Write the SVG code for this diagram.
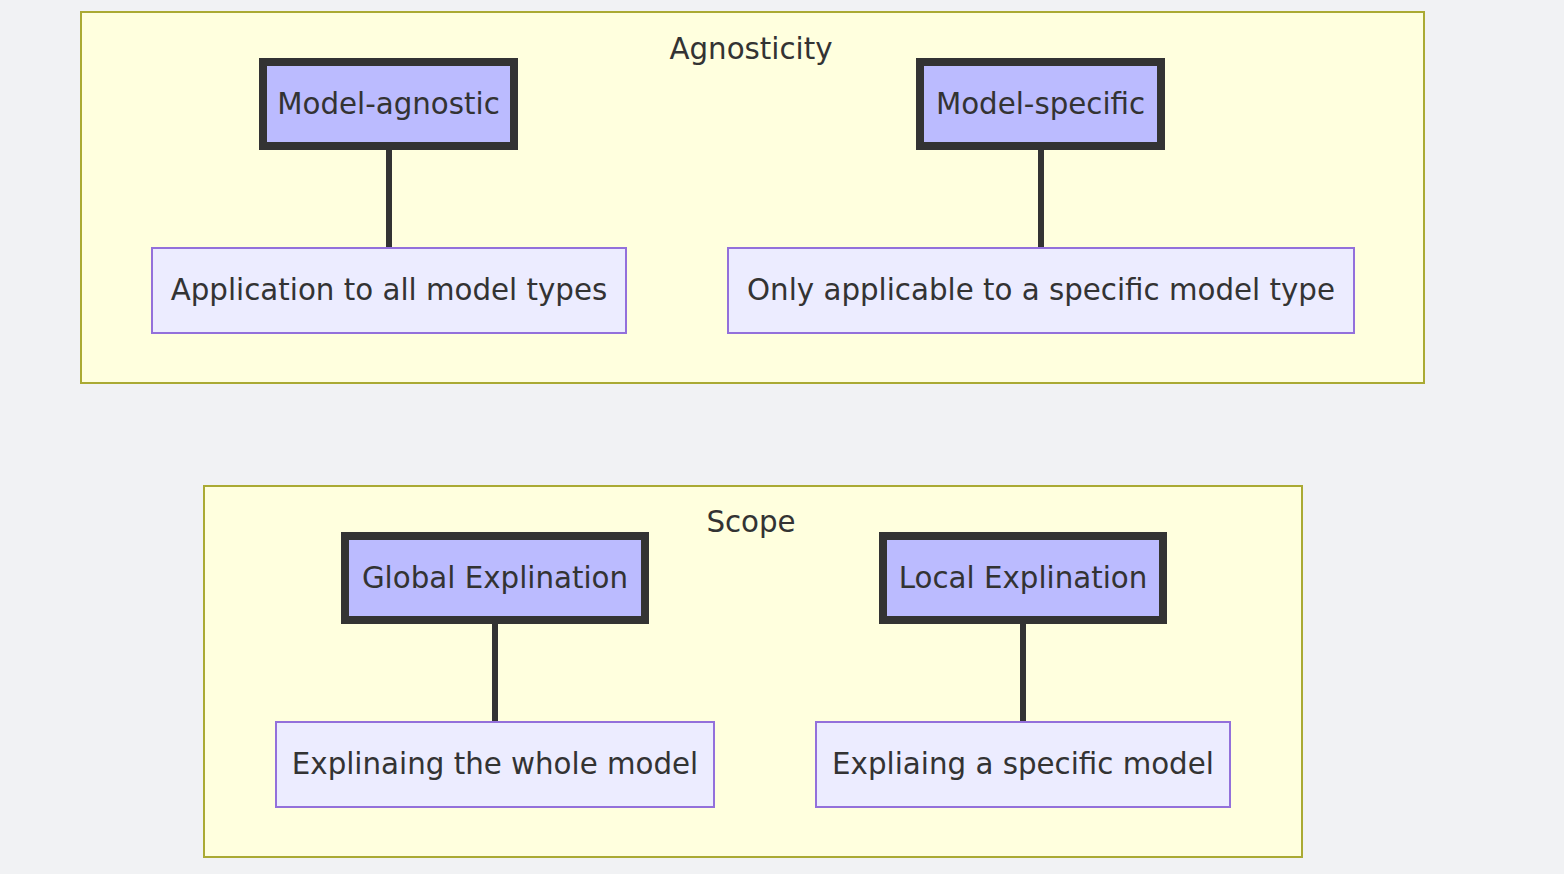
<svg xmlns="http://www.w3.org/2000/svg" width="1564" height="874" viewBox="0 0 1564 874">
<style>
.bg{fill:#f1f2f4}
.cluster{fill:#ffffde;stroke:#aaaa33;stroke-width:2}
.main{fill:#bbbbff;stroke:#333333;stroke-width:8}
.desc{fill:#ececff;stroke:#9370db;stroke-width:2}
.edge{stroke:#333333;stroke-width:6;fill:none}
text{font-family:"DejaVu Sans","Liberation Sans",sans-serif;font-size:29.3px;fill:#333333;text-anchor:middle;dominant-baseline:central}
</style>
<rect class="bg" x="0" y="0" width="1564" height="874"/>
<g id="cluster-agnosticity">
<rect class="cluster" x="81" y="12" width="1343" height="371"/>
<text x="751" y="49">Agnosticity</text>
</g>
<g id="cluster-scope">
<rect class="cluster" x="204" y="486" width="1098" height="371"/>
<text x="751" y="522">Scope</text>
</g>
<g id="edges">
<line class="edge" x1="389" y1="150" x2="389" y2="248"/>
<line class="edge" x1="1041" y1="150" x2="1041" y2="248"/>
<line class="edge" x1="495" y1="624" x2="495" y2="722"/>
<line class="edge" x1="1023" y1="624" x2="1023" y2="722"/>
</g>
<g id="model-agnostic">
<rect class="main" x="263" y="62" width="251" height="84"/>
<text x="388.5" y="104">Model-agnostic</text>
</g>
<g id="model-specific">
<rect class="main" x="920" y="62" width="241" height="84"/>
<text x="1040.5" y="104">Model-specific</text>
</g>
<g id="all-types">
<rect class="desc" x="152" y="248" width="474" height="85"/>
<text x="389" y="290">Application to all model types</text>
</g>
<g id="specific-type">
<rect class="desc" x="728" y="248" width="626" height="85"/>
<text x="1041" y="290">Only applicable to a specific model type</text>
</g>
<g id="global">
<rect class="main" x="345" y="536" width="300" height="84"/>
<text x="495" y="578">Global Explination</text>
</g>
<g id="local">
<rect class="main" x="883" y="536" width="280" height="84"/>
<text x="1023" y="578">Local Explination</text>
</g>
<g id="whole-model">
<rect class="desc" x="276" y="722" width="438" height="85"/>
<text x="495" y="764">Explinaing the whole model</text>
</g>
<g id="specific-model">
<rect class="desc" x="816" y="722" width="414" height="85"/>
<text x="1023" y="764">Expliaing a specific model</text>
</g>
</svg>
